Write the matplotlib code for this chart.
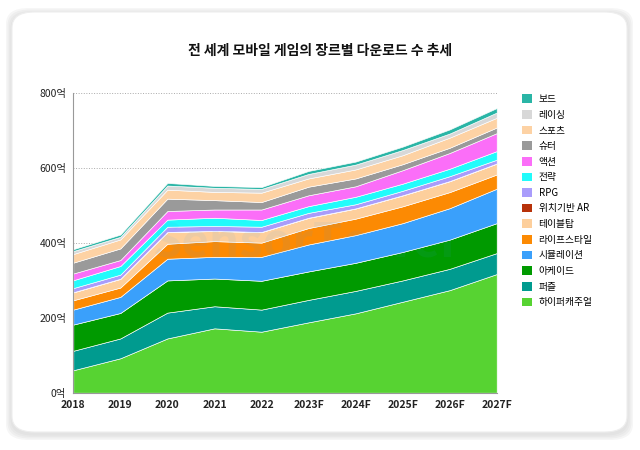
import matplotlib.pyplot as plt
from matplotlib.patches import FancyBboxPatch, Patch

plt.rcParams['font.family'] = ['Noto Sans CJK KR', 'DejaVu Sans']

years = ["2018", "2019", "2020", "2021", "2022", "2023F", "2024F", "2025F", "2026F", "2027F"]

# downloads per genre (억), bottom to top of the stack
hypercasual = [60, 92, 145, 172, 163, 188, 212, 243, 274, 317]
puzzle = [52, 53, 69, 59, 59, 60, 60, 57, 57, 56]
arcade = [70, 68, 86, 74, 77, 76, 75, 76, 78, 80]
simulation = [40, 43, 58, 58, 64, 72, 74, 77, 84, 92]
lifestyle = [25, 25, 40, 42, 38, 44, 44, 45, 43, 38]
tabletop = [21, 23, 31, 27, 28, 27, 27, 29, 29, 29]
location_ar = [0.5, 0.5, 0.5, 0.5, 0.5, 0.5, 0.5, 0.5, 0.5, 0.5]
rpg = [11, 11, 14, 13, 14, 13, 11, 12, 13, 10]
strategy = [21, 23, 19, 22, 18, 18, 20, 19, 20, 23]
action = [18, 16, 23, 22, 28, 29, 28, 36, 42, 48]
shooter = [29, 31, 33, 25, 20, 23, 21, 16, 14, 15]
sports = [23, 24, 24, 22, 25, 22, 24, 24, 27, 26]
racing = [8, 7, 11, 11, 10, 12, 13, 14, 11, 14]
board = [5, 6, 7, 5, 5, 8, 8, 9, 11, 12]

series = [hypercasual, puzzle, arcade, simulation, lifestyle, tabletop, location_ar,
          rpg, strategy, action, shooter, sports, racing, board]
labels = ["하이퍼캐주얼", "퍼즐", "아케이드", "시뮬레이션", "라이프스타일", "테이블탑",
          "위치기반 AR", "RPG", "전략", "액션", "슈터", "스포츠", "레이싱", "보드"]
colors = ["#57d332", "#009b8f", "#009a00", "#3aa0fb", "#fc8a03", "#fdcf9c",
          "#b7320a", "#a99cfb", "#22fbfb", "#fb6ef8", "#9a9a9a", "#fdd2a4",
          "#d8d8d8", "#2ab5a6"]

fig = plt.figure(figsize=(6.4, 4.5), dpi=100)

# card with soft shadow
for i, a in enumerate([0.035, 0.03, 0.025, 0.02]):
    pad = (4 - i) * 1.5
    fig.patches.append(FancyBboxPatch(
        ((12 - pad) / 640, (18 - pad - 2) / 450), (615 + 2 * pad) / 640, (420 + 2 * pad) / 450,
        boxstyle="round,pad=0,rounding_size=0.035", transform=fig.transFigure,
        facecolor="black", edgecolor="none", alpha=a, zorder=-3))
fig.patches.append(FancyBboxPatch(
    (12 / 640, 18 / 450), 615 / 640, 420 / 450,
    boxstyle="round,pad=0,rounding_size=0.035", transform=fig.transFigure,
    facecolor="white", edgecolor="#eeeeee", linewidth=0.8, zorder=-2))

ax = fig.add_axes([73.3 / 640, 57.3 / 450, 423.4 / 640, 299.4 / 450])
ax.set_zorder(2)
ax.set_facecolor("none")
x = list(range(len(years)))
ax.stackplot(x, *series, colors=colors, edgecolor="white", linewidth=0.45)

ax.set_xlim(0, 9)
ax.set_ylim(0, 800)
ax.set_yticks([0, 200, 400, 600, 800])
ax.set_yticklabels(["0억", "200억", "400억", "600억", "800억"], fontsize=7.5, color="#222222")
ax.set_xticks(x)
ax.set_xticklabels(years, fontsize=7.5, fontweight="bold", color="#222222")
ax.tick_params(length=0, pad=5)
ax.grid(axis="y", linestyle=":", color="#aaaaaa", linewidth=0.7)
ax.set_axisbelow(True)
for s in ["top", "right"]:
    ax.spines[s].set_visible(False)
for s in ["left", "bottom"]:
    ax.spines[s].set_color("#999999")
    ax.spines[s].set_linewidth(0.8)

ax.text(0.55, 0.5, "SensorTower", transform=ax.transAxes, fontsize=34, color="#3aa0fb",
        alpha=0.08, ha="center", va="center", fontweight="bold")

fig.text(320 / 640, 1 - 51 / 450, "전 세계 모바일 게임의 장르별 다운로드 수 추세",
         ha="center", va="center", fontsize=10, fontweight="bold", color="#111111")

handles = [Patch(facecolor=c, edgecolor="none") for c in colors[::-1]]
fig.legend(handles, labels[::-1], loc="upper left", bbox_to_anchor=(522 / 640, 1 - 94 / 450),
           frameon=False, fontsize=7, handlelength=1.0, handleheight=1.0,
           handletextpad=0.7, labelspacing=0.58, borderpad=0, borderaxespad=0)

fig.savefig("out.png", dpi=100)
